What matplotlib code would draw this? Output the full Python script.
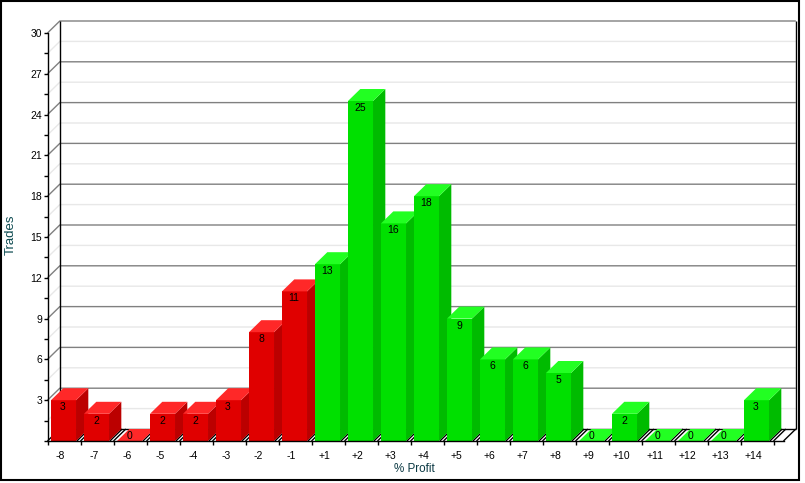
import matplotlib
matplotlib.use("Agg")
import matplotlib.pyplot as plt
from matplotlib.patches import Polygon, Rectangle
from matplotlib.ticker import MultipleLocator, FixedLocator, NullFormatter, FuncFormatter

# data
labels = ["-8", "-7", "-6", "-5", "-4", "-3", "-2", "-1", "+1", "+2", "+3", "+4",
          "+5", "+6", "+7", "+8", "+9", "+10", "+11", "+12", "+13", "+14"]
trades = [3, 2, 0, 2, 2, 3, 8, 11, 13, 25, 16, 18, 9, 6, 6, 5, 0, 2, 0, 0, 0, 3]

plt.rcParams["font.family"] = ["Liberation Sans", "DejaVu Sans"]

W, H = 805, 483
fig = plt.figure(figsize=(W / 100, H / 100), dpi=100, facecolor="white")

# outer black frame
fig.add_artist(Rectangle((0.5 / W, 1 - 480 / H), 798.5 / W, 479 / H, transform=fig.transFigure,
                         facecolor="white", edgecolor="black", linewidth=1.5, zorder=-5))

# plot box in pixels
left, right, top, bottom = 47.5, 783.5, 33, 441
step = 33.0
ax = fig.add_axes([left / W, 1 - bottom / H, (right - left) / W, (bottom - top) / H])
ax.set_xlim(0, (right - left) / step)
ax.set_ylim(0, 30)
ax.patch.set_alpha(0)

# depth of the fake 3d, in data units
dx = 12.3 / step
dy = 12 / 13.6
xmax = ax.get_xlim()[1]


def line(xs, ys, color, lw=1.0, z=1):
    ax.plot(xs, ys, color=color, lw=lw, zorder=z, clip_on=False, solid_capstyle="butt")


# back wall and side wall grid
for i in range(1, 21):
    v = i * 1.5
    col = "#808080" if i % 2 == 0 else "#e8e8e8"
    line([0, dx, xmax + dx], [v, v + dy, v + dy], col, 1.0, 1)

# walls and floor edges
line([dx, dx], [dy, 30 + dy], "black", 1.0, 2)
line([xmax + dx, xmax + dx], [dy, 30 + dy], "black", 1.0, 2)
line([dx, xmax + dx], [dy, dy], "black", 1.0, 2)
line([xmax, xmax + dx], [0, dy], "black", 1.0, 2)
for k in range(len(labels) + 1):
    line([k, k + dx], [0, dy], "black", 1.0, 2)
    if k > 0:
        line([k - 0.11, k - 0.11 + dx], [0, dy], "black", 1.0, 2)

# bars
bar_l, bar_r = 0.106, 0.864
for k, v in enumerate(trades):
    if labels[k].startswith("-"):
        front, side, cap = "#e00000", "#bb0000", "#ff2828"
    else:
        front, side, cap = "#00e000", "#00bb00", "#22ff22"
    x0, x1 = k + bar_l, k + bar_r
    z = 3 + k * 0.01
    ax.add_patch(Rectangle((x0, 0), x1 - x0, v, facecolor=front, edgecolor="none", zorder=z, clip_on=False))
    ax.add_patch(Polygon([(x1, 0), (x1 + dx, dy), (x1 + dx, v + dy), (x1, v)], facecolor=side,
                         edgecolor="none", zorder=z, clip_on=False))
    ax.add_patch(Polygon([(x0, v), (x1, v), (x1 + dx, v + dy), (x0 + dx, v + dy)], facecolor=cap,
                         edgecolor="none", zorder=z, clip_on=False))
    # zero bars carry the number on the cap, the others just under it
    off = 5 if v == 0 else -7
    ax.annotate(str(v), (k + 0.47, v), xytext=(0, off), textcoords="offset pixels", ha="center",
                va="center", fontsize=7.5, color="black", zorder=5, annotation_clip=False)

# axes
for s in ["top", "right"]:
    ax.spines[s].set_visible(False)
for s in ["left", "bottom"]:
    ax.spines[s].set_linewidth(1.0)
    ax.spines[s].set_zorder(6)
ax.yaxis.set_major_locator(MultipleLocator(3))
ax.yaxis.set_minor_locator(MultipleLocator(1.5))
ax.yaxis.set_major_formatter(FuncFormatter(lambda val, pos: "" if val == 0 else f"{val:.0f}"))
ax.tick_params(axis="y", which="both", length=3, width=1, labelsize=7.5, pad=1)
ax.xaxis.set_major_locator(FixedLocator(range(len(labels) + 1)))
ax.xaxis.set_major_formatter(NullFormatter())
ax.xaxis.set_minor_locator(FixedLocator([k + 0.4 for k in range(len(labels))]))
ax.set_xticklabels(labels, minor=True)
ax.tick_params(axis="x", which="major", length=3, width=1)
ax.tick_params(axis="x", which="minor", length=0, labelsize=7.5, pad=7)

fig.text(414 / W, 1 - 469.5 / H, "% Profit", ha="center", va="center", fontsize=8.4, color="#0c3a44")
fig.text(10.5 / W, 1 - 234.5 / H, "Trades", ha="center", va="center", rotation=90, fontsize=9.5, color="#0c4a50")

fig.savefig("out.png", dpi=100, facecolor="white")
